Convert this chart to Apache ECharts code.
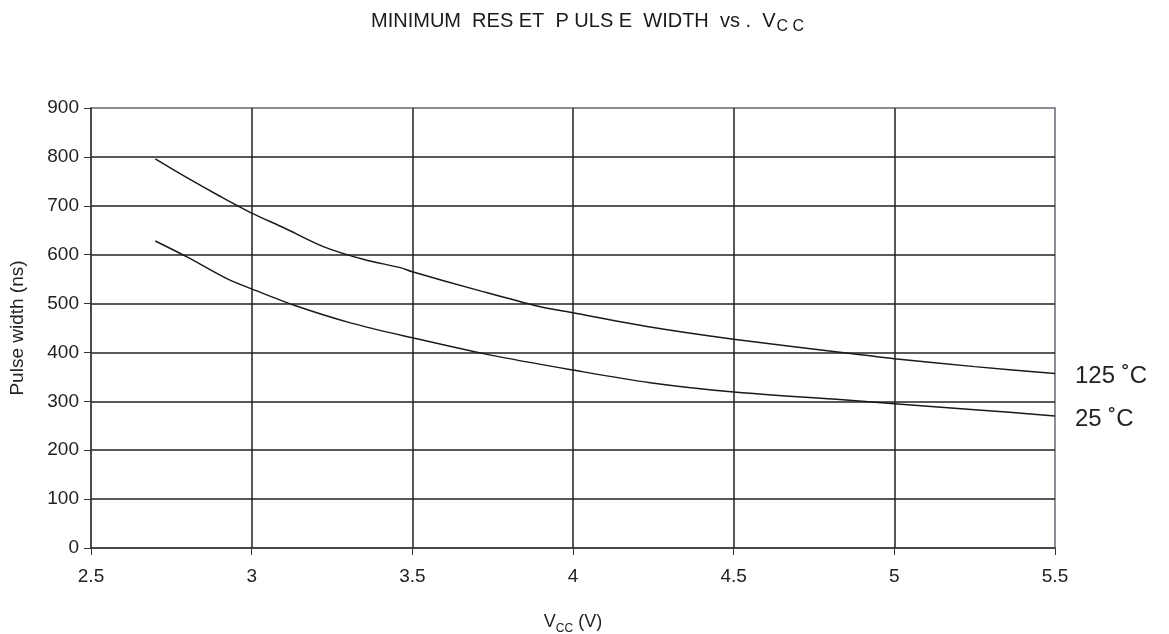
<!DOCTYPE html>
<html><head><meta charset="utf-8">
<script src="https://cdn.jsdelivr.net/npm/echarts@6/dist/echarts.min.js"></script>
<style>html,body{margin:0;padding:0;background:#fff}#c{width:1169px;height:634px}</style>
</head><body><div id="c"></div>
<script>
var vcc125 = [2.7, 2.8, 2.9, 3.0, 3.1, 3.225, 3.35, 3.465, 3.5, 3.7, 3.888, 4.0, 4.24, 4.5, 4.85, 5.0, 5.25, 5.5];
var pw125  = [796, 757, 720, 685, 655, 616, 590, 573, 565, 528, 495, 481, 452, 427, 399, 387, 371, 357];
var vcc25 = [2.7, 2.8, 2.926, 3.0, 3.13, 3.31, 3.5, 3.74, 4.0, 4.24, 4.5, 4.84, 5.0, 5.25, 5.5];
var pw25  = [628, 595, 550, 530, 497, 460, 430, 395, 364, 338, 319, 303, 295, 283, 270];
var xTicks = [2.5, 3, 3.5, 4, 4.5, 5, 5.5];
var yTicks = [0, 100, 200, 300, 400, 500, 600, 700, 800, 900];
var seriesNames = ['125 ˚C', '25 ˚C'];

function pairs(xs, ys){ return xs.map(function(x,i){ return [x, ys[i]]; }); }

var font = 'Liberation Sans, Arial, sans-serif';
var chart = echarts.init(document.getElementById('c'), null, {renderer:'canvas'});
chart.setOption({
  animation: false,
  backgroundColor: '#fff',
  title: {
    text: '{m|MINIMUM  RES ET  P ULS E  WIDTH  vs .  V}{s|C C}',
    left: 366, top: 0,
    textStyle: {
      rich: {
        m: {fontFamily: font, fontSize: 20, color: '#1a1a1a', fontWeight: 'normal', verticalAlign: 'bottom', lineHeight: 26},
        s: {fontFamily: font, fontSize: 16, color: '#1a1a1a', fontWeight: 'normal', verticalAlign: 'bottom', lineHeight: 20, padding: [0,0,-4,1]}
      }
    }
  },
  grid: {left: 91, right: 114, top: 108, bottom: 86, containLabel: false, outerBoundsMode: 'none', show: true, borderColor: '#8a8f96', borderWidth: 2, backgroundColor: '#fff'},
  xAxis: {
    type: 'value', min: xTicks[0], max: xTicks[xTicks.length-1], interval: 0.5,
    name: '{m|V}{s|CC}{m| (V)}', nameLocation: 'middle', nameGap: 59,
    nameTextStyle: {rich: {
      m: {fontFamily: font, fontSize: 18, color: '#222', verticalAlign: 'bottom', lineHeight: 24},
      s: {fontFamily: font, fontSize: 12, color: '#222', verticalAlign: 'bottom', lineHeight: 18, padding: [0,0,-4,0]}
    }},
    axisLine: {show: true, onZero: false, lineStyle: {color: '#333', width: 1.5}},
    axisTick: {show: true, inside: false, length: 7, lineStyle: {color: '#333', width: 1}},
    axisLabel: {fontFamily: font, fontSize: 19, color: '#222', margin: 19, formatter: function(v){return String(v);}},
    splitLine: {show: true, showMinLine: false, showMaxLine: false, lineStyle: {color: '#222', width: 1.5}}
  },
  yAxis: {
    type: 'value', min: yTicks[0], max: yTicks[yTicks.length-1], interval: 100,
    name: 'Pulse width (ns)', nameLocation: 'middle', nameGap: 64, nameRotate: 90,
    nameTextStyle: {fontFamily: font, fontSize: 19, color: '#222'},
    axisLine: {show: true, lineStyle: {color: '#333', width: 1.5}},
    axisTick: {show: true, inside: false, length: 7, lineStyle: {color: '#333', width: 1}},
    axisLabel: {fontFamily: font, fontSize: 19, color: '#222', margin: 12},
    splitLine: {show: true, showMinLine: false, showMaxLine: false, lineStyle: {color: '#222', width: 1.5}}
  },
  series: [
    {name: seriesNames[0], type: 'line', data: pairs(vcc125, pw125), smooth: 0.3, symbol: 'none',
     lineStyle: {color: '#1a1a1a', width: 1.5}, z: 5,
     endLabel: {show: true, formatter: seriesNames[0], distance: 20, fontFamily: font, fontSize: 24, color: '#222', offset: [0, 3]}},
    {name: seriesNames[1], type: 'line', data: pairs(vcc25, pw25), smooth: 0.3, symbol: 'none',
     lineStyle: {color: '#1a1a1a', width: 1.5}, z: 5,
     endLabel: {show: true, formatter: seriesNames[1], distance: 20, fontFamily: font, fontSize: 24, color: '#222', offset: [0, 3]}}
  ]
});
</script></body></html>
